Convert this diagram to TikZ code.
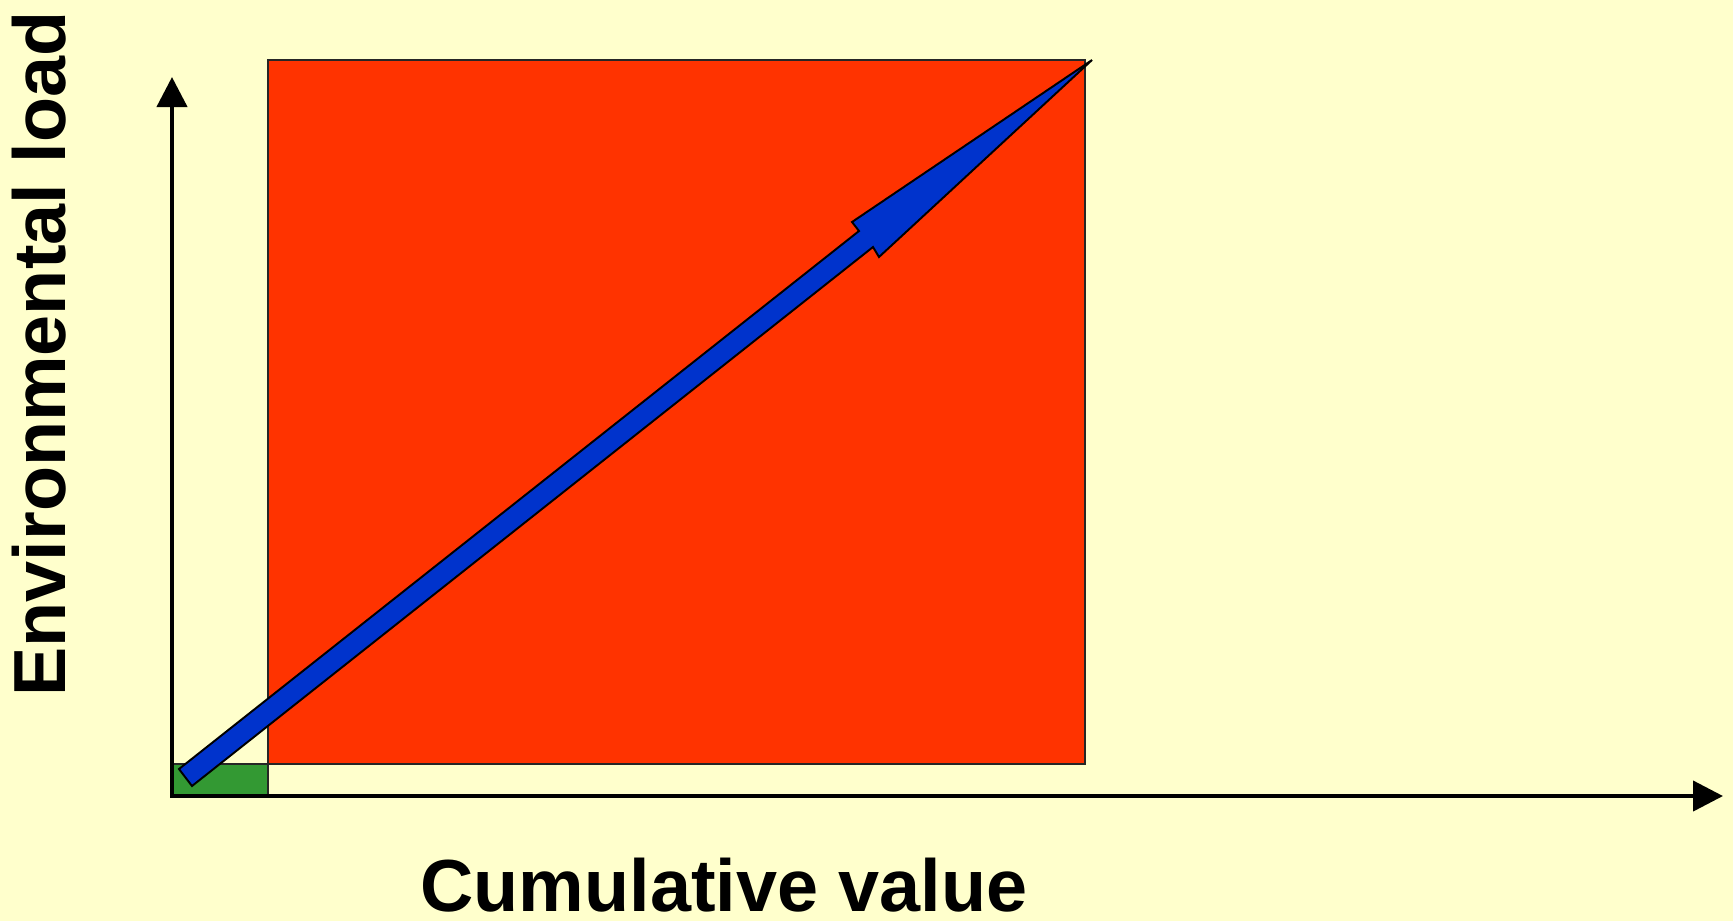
\documentclass[tikz,border=0pt]{standalone}
\usepackage{fontspec}
\setmainfont{Liberation Sans}
\usetikzlibrary{arrows.meta,positioning,calc}
\definecolor{PaperColor}{RGB}{255,255,204}
\definecolor{LoadColor}{RGB}{255,51,0}
\definecolor{ValueColor}{RGB}{51,153,51}
\definecolor{TrendColor}{RGB}{0,51,204}

\begin{document}
\begin{tikzpicture}[x=0.02cm, y=-0.02cm, >={Triangle[length=0.6cm,width=0.6cm]},
    axisline/.style={line width=0.085cm},
    block/.style={draw=black!85, line width=0.85pt},
    bigtext/.style={font=\fontsize{42pt}{50pt}\selectfont\bfseries, inner sep=0pt}]
  \fill[PaperColor] (0,0) rectangle (1733,921);
  \useasboundingbox (0,0) rectangle (1733,921);
  % axes corners
  \coordinate (origin) at (172,796);
  \coordinate (ytip) at (172,77);
  \coordinate (xtip) at (1723,796);
  % load and value blocks
  \draw[block, fill=LoadColor] (268,60) rectangle (1085,764);
  \draw[block, fill=ValueColor] (172,764) rectangle (268,796);
  % trend arrow
  \draw[line width=1.1pt, fill=TrendColor, line join=miter]
    (179,769) -- (859,231) -- (852,222) -- (1092,60) -- (879,257) -- (873,247) -- (192,786) -- cycle;
  \draw[axisline, <->] (ytip) |- (xtip);
  \node[bigtext, anchor=base] (xlabel) at (724,911) {Cumulative value};
  \node[bigtext, rotate=90, anchor=base] (ylabel) at (65,354) {Environmental load};
\end{tikzpicture}
\end{document}
